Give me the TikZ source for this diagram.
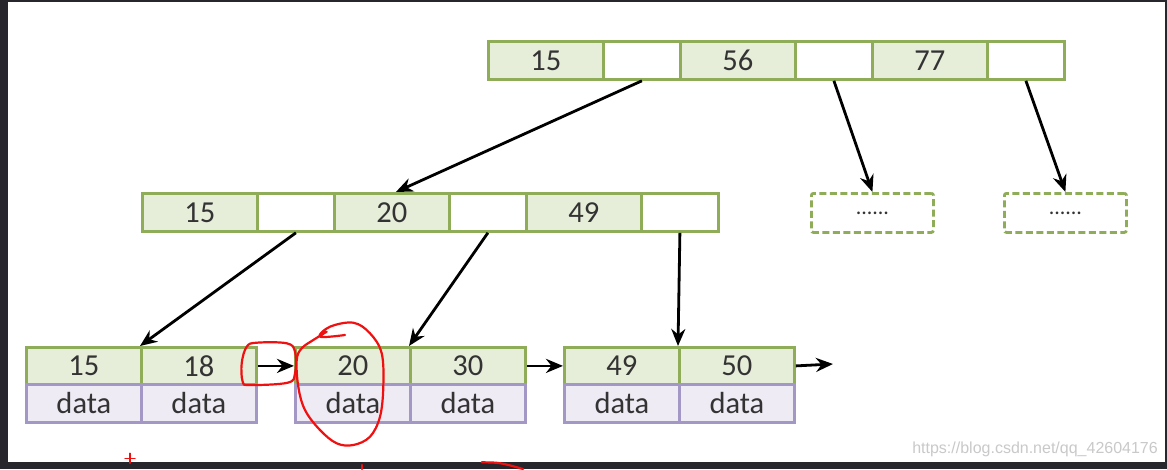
\documentclass[tikz,border=0pt]{standalone}
\usepackage{fontspec}
\setmainfont{Carlito}
\newfontfamily\wmfont{Liberation Sans}
\usetikzlibrary{arrows.meta,calc}
\definecolor{frame}{HTML}{26262C}
\definecolor{gborder}{HTML}{8FAD58}
\definecolor{gfill}{HTML}{E6EDD9}
\definecolor{pborder}{HTML}{A397C6}
\definecolor{pfill}{HTML}{EFEBF5}
\definecolor{txt}{HTML}{333333}
\definecolor{wm}{HTML}{C9C9C9}
\definecolor{annot}{HTML}{F01010}
\tikzset{
  cellbase/.style={draw, line width=2.8pt, anchor=north west, minimum height=38pt, inner sep=0pt,
    text=txt, font=\fontsize{30.5}{32}\selectfont},
  keycell/.style={cellbase, draw=gborder, fill=gfill, minimum width=115pt},
  ptrcell/.style={cellbase, draw=gborder, fill=white, minimum width=77pt},
  leafkey/.style={cellbase, draw=gborder, fill=gfill, minimum width=115pt, minimum height=37pt},
  datacell/.style={cellbase, draw=pborder, fill=pfill, minimum width=115pt, minimum height=38pt},
  dotsbox/.style={cellbase, draw=gborder, fill=white, dashed, dash pattern=on 7pt off 3.5pt,
    minimum width=122pt, minimum height=39pt, rounded corners=2pt, font=\fontsize{22}{24}\selectfont},
  link/.style={line width=2.8pt, black, -{Stealth[length=17pt,width=14pt]}},
  redpen/.style={annot, line width=2.2pt, line cap=round, line join=round},
}
\begin{document}
\begin{tikzpicture}[x=1pt,y=-1pt]
\useasboundingbox (0,0) rectangle (1167,469);
\fill[frame] (0,0) rectangle (1167,469);
\fill[white] (8,2) rectangle (1165,462);
% top level
\node[keycell] (t1) at (487,40) {15};
\node[ptrcell] (t2) at (602,40) {};
\node[keycell] (t3) at (679,40) {56};
\node[ptrcell] (t4) at (794,40) {};
\node[keycell] (t5) at (871,40) {77};
\node[ptrcell] (t6) at (986,40) {};
% middle level
\node[keycell] (m1) at (141,192) {15};
\node[ptrcell] (m2) at (256,192) {};
\node[keycell] (m3) at (333,192) {20};
\node[ptrcell] (m4) at (448,192) {};
\node[keycell] (m5) at (525,192) {49};
\node[ptrcell] (m6) at (640,192) {};
% dashed boxes
\node[dotsbox] (d1) at (810,192) {......};
\node[dotsbox] (d2) at (1003,192) {......};
% leaves
\node[leafkey] (l1) at (25,346) {15};
\node[leafkey] (l2) at (140,346) {18};
\node[datacell] (a1) at (25,383) {data};
\node[datacell] (a2) at (140,383) {data};
\node[leafkey] (l3) at (294,346) {20};
\node[leafkey] (l4) at (409,346) {30};
\node[datacell] (a3) at (294,383) {data};
\node[datacell] (a4) at (409,383) {data};
\node[leafkey] (l5) at (563,346) {49};
\node[leafkey] (l6) at (678,346) {50};
\node[datacell] (a5) at (563,383) {data};
\node[datacell] (a6) at (678,383) {data};
\coordinate (tail) at (833,364);
% connectors
\draw[link] (t2.south) -- ($(m3.north)+(4,0)$);
\draw[link] (t4.south) -- (d1.north);
\draw[link] (t6.south) -- (d2.north);
\draw[link] (m2.south) -- (l2.north west);
\draw[link] (m4.south) -- (l4.north west);
\draw[link] (m6.south) -- (l6.north west);
\draw[link] (l2.east) -- (l3.west);
\draw[link] (l4.east) -- (l5.west);
\draw[link] (l6.east) -- (tail);
% watermark
\node[anchor=south east, text=wm, inner sep=0pt, font=\wmfont\fontsize{16}{18}\selectfont] (wmk) at (1158,457) {https://blog.csdn.net/qq\_42604176};
% red annotations
\draw[redpen] plot[smooth cycle, tension=0.6] coordinates {(256.7,342.7) (286.7,343.3) (295,351.7) (295,373.3) (287.7,382.7) (250,385) (242.7,381.7) (241.7,363.3) (246.7,346.7)};
\draw[redpen] plot[smooth, tension=0.6] coordinates {(345,335) (320,336.7) (330,326.7) (353.3,322.7) (370,333.3) (381.7,353.3) (383.3,386.7) (380,416.7) (370,436.7) (353.3,445) (336.7,443.3) (320,430) (305,410) (298.3,386.7) (296.7,360) (301.7,348.3) (313.3,340) (326.7,331.7)};
\draw[redpen, line width=1.5pt] (125,458.3) -- (135,458.3) (130,453.3) -- (130,463.3);
\draw[redpen] (361.7,465) -- (361.7,469);
\draw[redpen] (481.7,462.3) .. controls (500,462.5) .. (523,469);
\end{tikzpicture}
\end{document}
